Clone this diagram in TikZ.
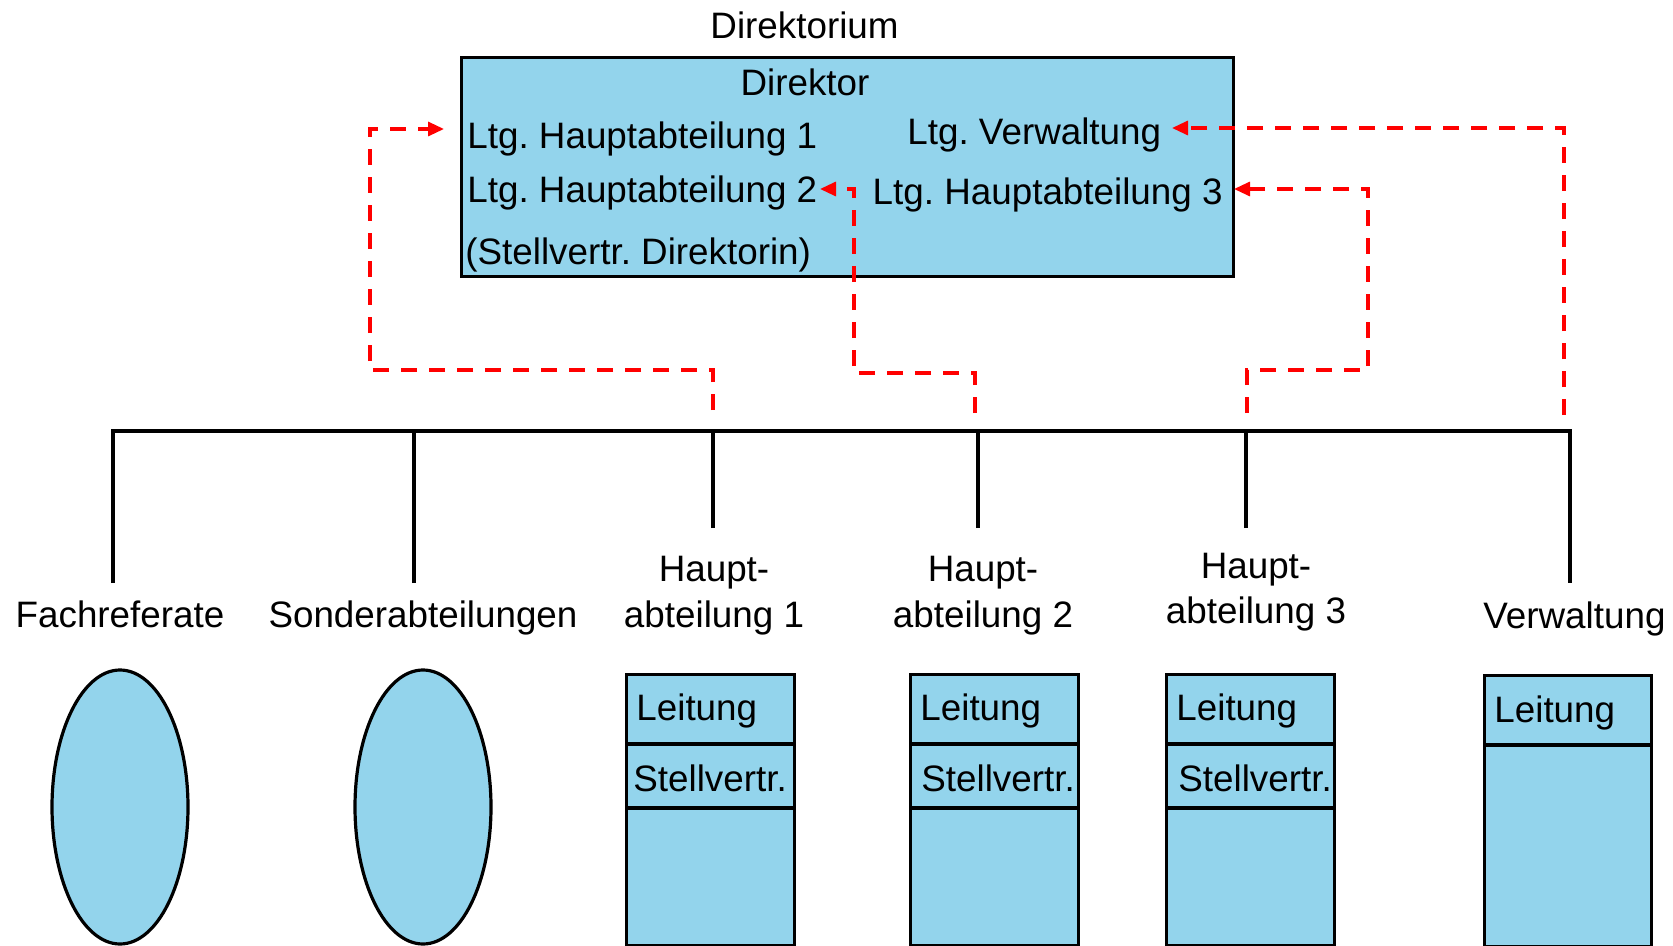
\documentclass[tikz,border=0pt]{standalone}
\usepackage{fontspec}
\setmainfont{Liberation Sans}
\usetikzlibrary{arrows.meta}
\definecolor{fillblue}{RGB}{147,212,236}
\definecolor{dashred}{RGB}{255,0,0}
\frenchspacing
\begin{document}
\frenchspacing
\begin{tikzpicture}[x=0.5pt,y=-0.5pt,
  txt/.style={inner sep=0pt, font=\fontsize{18.4}{22}\selectfont},
  unitbox/.style={draw=black, line width=1.6pt, fill=fillblue, inner sep=0pt, anchor=north west},
  divider/.style={draw=black, line width=1.7pt},
  tree/.style={draw=black, line width=1.7pt, line join=miter},
  link/.style={draw=dashred, line width=1.6pt, dash pattern=on 8pt off 6pt, -{Triangle[length=8pt,width=7pt]}}]
\useasboundingbox (0,0) rectangle (1673,946);

% ---------- Direktorium ----------
\node[txt, anchor=base] (direktorium) at (804.5,39) {Direktorium};
\node[unitbox, line width=1.5pt, minimum width=386pt, minimum height=109.5pt] (dir) at (460,56) {};
\node[txt, anchor=base] (direktor) at (805,96) {Direktor};
\node[txt, anchor=base west] (ltg1) at (467,149) {Ltg. Hauptabteilung 1};
\node[txt, anchor=base west] (ltg2) at (467,203) {Ltg. Hauptabteilung 2};
\node[txt, anchor=base west] (stv) at (465,265) {(Stellvertr. Direktorin)};
\node[txt, anchor=base west] (ltgv) at (907,145) {Ltg. Verwaltung};
\node[txt, anchor=base east] (ltg3) at (1223,205) {Ltg. Hauptabteilung 3};

% ---------- tree ----------
\coordinate (busL) at (113,431);
\coordinate (busR) at (1570,431);
\coordinate (dFach) at (113,583);
\coordinate (dSond) at (414,583);
\coordinate (dHA1) at (713,528);
\coordinate (dHA2) at (978,528);
\coordinate (dHA3) at (1246,528);
\coordinate (dVerw) at (1570,583);
\draw[tree] (dFach) -- (busL) -- (busR) -- (dVerw);
\draw[tree] (dSond) -- (dSond |- busL);
\draw[tree] (dHA1) -- (dHA1 |- busL);
\draw[tree] (dHA2) -- (dHA2 |- busL);
\draw[tree] (dHA3) -- (dHA3 |- busL);

% ---------- labels ----------
\node[txt, anchor=base] (lFach) at (120,627) {Fachreferate};
\node[txt, anchor=base] (lSond) at (423,627) {Sonderabteilungen};
\node[txt, anchor=base] (lHA1a) at (714,581) {Haupt-};
\node[txt, anchor=base] (lHA1b) at (714,627) {abteilung 1};
\node[txt, anchor=base] (lHA2a) at (983,581) {Haupt-};
\node[txt, anchor=base] (lHA2b) at (983,627) {abteilung 2};
\node[txt, anchor=base] (lHA3a) at (1256,578) {Haupt-};
\node[txt, anchor=base] (lHA3b) at (1256,623) {abteilung 3};
\node[txt, anchor=base west] (lVerw) at (1483,628) {Verwaltung};

% ---------- units ----------
\draw[unitbox] (120,807) ellipse [x radius=68, y radius=137];
\draw[unitbox] (423,807) ellipse [x radius=68, y radius=137];

\node[unitbox, minimum width=84pt, minimum height=135.5pt] (bHA1) at (625,673) {};
\node[unitbox, minimum width=84pt, minimum height=135.5pt] (bHA2) at (909,673) {};
\node[unitbox, minimum width=84pt, minimum height=135.5pt] (bHA3) at (1165,673) {};
\node[unitbox, minimum width=83.5pt, minimum height=135.5pt] (bVerw) at (1483,674) {};
\foreach \b in {bHA1,bHA2,bHA3}{
  \draw[divider] (\b.west |- 0,744) -- (\b.east |- 0,744);
  \draw[divider] (\b.west |- 0,808) -- (\b.east |- 0,808);
}
\draw[divider] (bVerw.west |- 0,745) -- (bVerw.east |- 0,745);

\node[txt, anchor=base west] at (636,720) {Leitung};
\node[txt, anchor=base west] at (633,791) {Stellvertr.};
\node[txt, anchor=base west] at (920,720) {Leitung};
\node[txt, anchor=base west] at (921,791) {Stellvertr.};
\node[txt, anchor=base west] at (1176,720) {Leitung};
\node[txt, anchor=base west] at (1178,791) {Stellvertr.};
\node[txt, anchor=base west] at (1494,722) {Leitung};

% ---------- dashed links ----------
\coordinate (sHA1) at (713,410);
\coordinate (sHA2) at (975,413);
\coordinate (sHA3) at (1247,413);
\coordinate (sVerw) at (1564,415);
\coordinate (tHA1) at (444,129);
\coordinate (tHA2) at (820,189);
\coordinate (tHA3) at (1234,189);
\coordinate (tVerw) at (1172,128);
\draw[link] (sHA1) -- (713,370) -- (370,370) -- (370,129) -- (tHA1);
\draw[link] (sHA2) -- (975,373) -- (854,373) -- (854,189) -- (tHA2);
\draw[link] (sHA3) -- (1247,370) -- (1368,370) -- (1368,189) -- (tHA3);
\draw[link] (sVerw) -- (sVerw |- tVerw) -- (tVerw);
\end{tikzpicture}
\end{document}
